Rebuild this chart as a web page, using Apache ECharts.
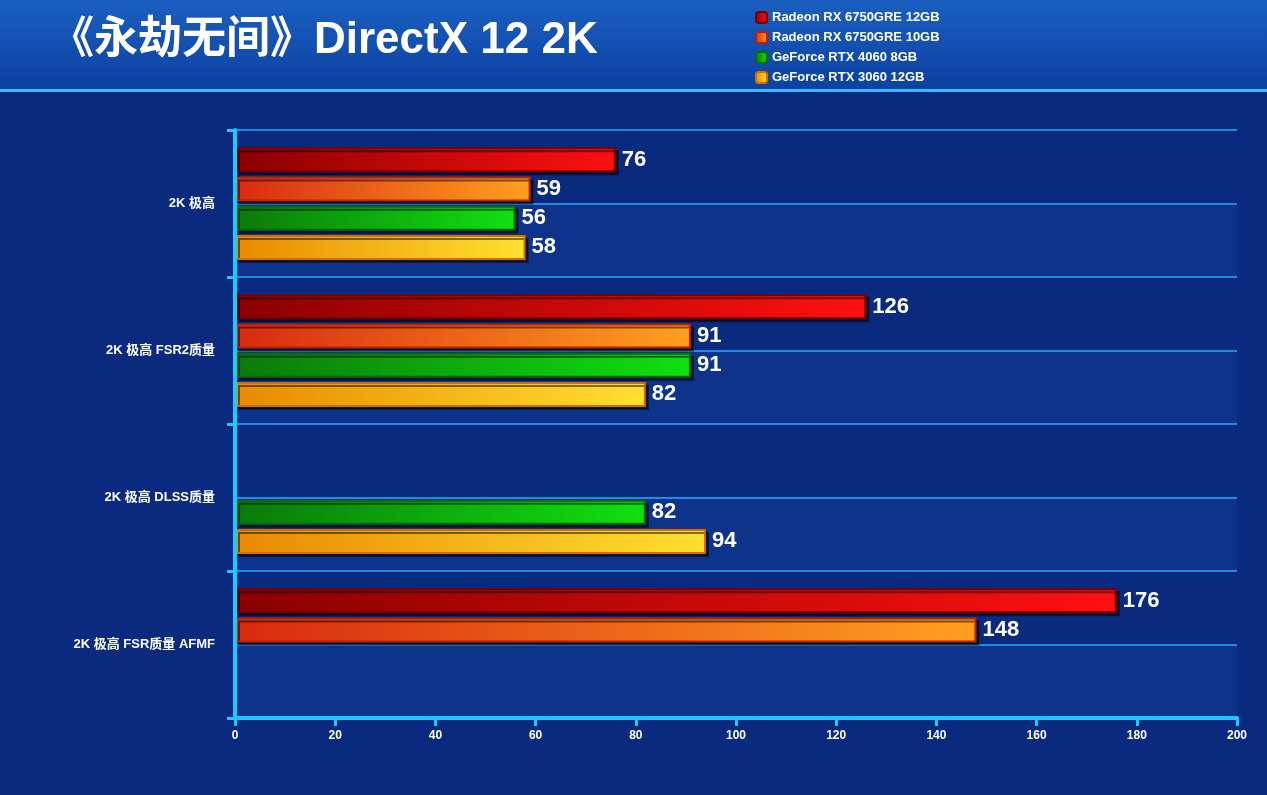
<!DOCTYPE html>
<html><head><meta charset="utf-8">
<script src="https://cdn.jsdelivr.net/npm/echarts@6/dist/echarts.min.js"></script>
<style>html,body{margin:0;padding:0;}#c{width:1267px;height:795px;}</style>
</head><body><div id="c"></div>
<script>
const categories = ['2K 极高', '2K 极高 FSR2质量', '2K 极高 DLSS质量', '2K 极高 FSR质量 AFMF'];
const seriesNames = ['Radeon RX 6750GRE 12GB', 'Radeon RX 6750GRE 10GB', 'GeForce RTX 4060 8GB', 'GeForce RTX 3060 12GB'];
const rx12 = [76, 126, null, 176];
const rx10 = [59, 91, null, 148];
const rtx4060 = [56, 91, 82, null];
const rtx3060 = [58, 82, 94, null];
const xTicks = [0, 20, 40, 60, 80, 100, 120, 140, 160, 180, 200];

const grads = [
  ['#8a0000', '#ff1010', '#7a0000'],
  ['#d82a10', '#ffa020', '#c02000'],
  ['#0a7a0a', '#10e010', '#0a6a0a'],
  ['#e88a00', '#ffe030', '#d07000']
];
const dataArr = [rx12, rx10, rtx4060, rtx3060];
const chart = echarts.init(document.getElementById('c'));
const series = seriesNames.map((n, i) => ({
  name: n, type: 'bar', data: dataArr[i], barWidth: 25, barGap: '17%', yAxisIndex: 0,
  itemStyle: {
    color: new echarts.graphic.LinearGradient(0, 0, 1, 0, [{offset: 0, color: grads[i][0]}, {offset: 1, color: grads[i][1]}]),
    borderColor: grads[i][2], borderWidth: 2,
    shadowColor: 'rgba(0,0,0,0.5)', shadowOffsetX: 3, shadowOffsetY: 3
  },
  label: {show: true, position: 'right', color: '#fff', fontSize: 22, fontWeight: 'bold', fontFamily: 'Liberation Sans', distance: 6}
}));
chart.setOption({
  backgroundColor: new echarts.graphic.LinearGradient(0, 0, 0, 1, [{offset: 0, color: '#1a5fc0'}, {offset: 0.12, color: '#0b3f9f'}, {offset: 1, color: '#0a2f86'}]),
  title: {text: '《永劫无间》DirectX 12 2K', left: 45, top: 14,
    textStyle: {color: '#fff', fontSize: 44, fontWeight: 'bold', fontFamily: 'Liberation Sans, Noto Sans CJK SC'}},
  legend: {orient: 'vertical', left: 750, top: 6, itemWidth: 11, itemHeight: 11, itemGap: 7,
    textStyle: {color: '#fff', fontSize: 13, fontWeight: 'bold', fontFamily: 'Liberation Sans'}, data: seriesNames},
  graphic: [{type: 'rect', shape: {x: 0, y: 89, width: 1267, height: 3}, style: {fill: '#3fb6ff'}},
    {type: 'rect', shape: {x: 0, y: 92, width: 1267, height: 703}, style: {fill: '#0a2a80'}, z: -1}],
  grid: {left: 235, right: 30, top: 130, bottom: 77},
  xAxis: {type: 'value', min: 0, max: 200, interval: 20,
    axisLine: {show: true, lineStyle: {color: '#1ec8ff', width: 4}},
    axisTick: {show: true, length: 8, lineStyle: {color: '#1ec8ff', width: 3}},
    axisLabel: {color: '#fff', fontSize: 12, fontWeight: 'bold', fontFamily: 'Liberation Sans', margin: 12},
    splitLine: {show: false}},
  yAxis: [{type: 'category', data: categories, inverse: true, z: 5,
    axisLine: {show: true, lineStyle: {color: '#1ec8ff', width: 4}},
    axisTick: {show: true, length: 8, lineStyle: {color: '#1ec8ff', width: 3}},
    axisLabel: {color: '#fff', fontSize: 13, fontWeight: 'bold', fontFamily: 'Liberation Sans, Noto Sans CJK SC', margin: 20},
    splitLine: {show: false}},
   {type: 'value', min: 0, max: 8, interval: 1, position: 'left', show: true,
    axisLine: {show: false}, axisTick: {show: false}, axisLabel: {show: false},
    splitLine: {show: true, lineStyle: {color: '#2aa8ff', width: 1.5}},
    splitArea: {show: true, areaStyle: {color: ['rgba(40,110,200,0.15)', 'rgba(0,0,0,0)']}}}],
  series: series
});
</script></body></html>
